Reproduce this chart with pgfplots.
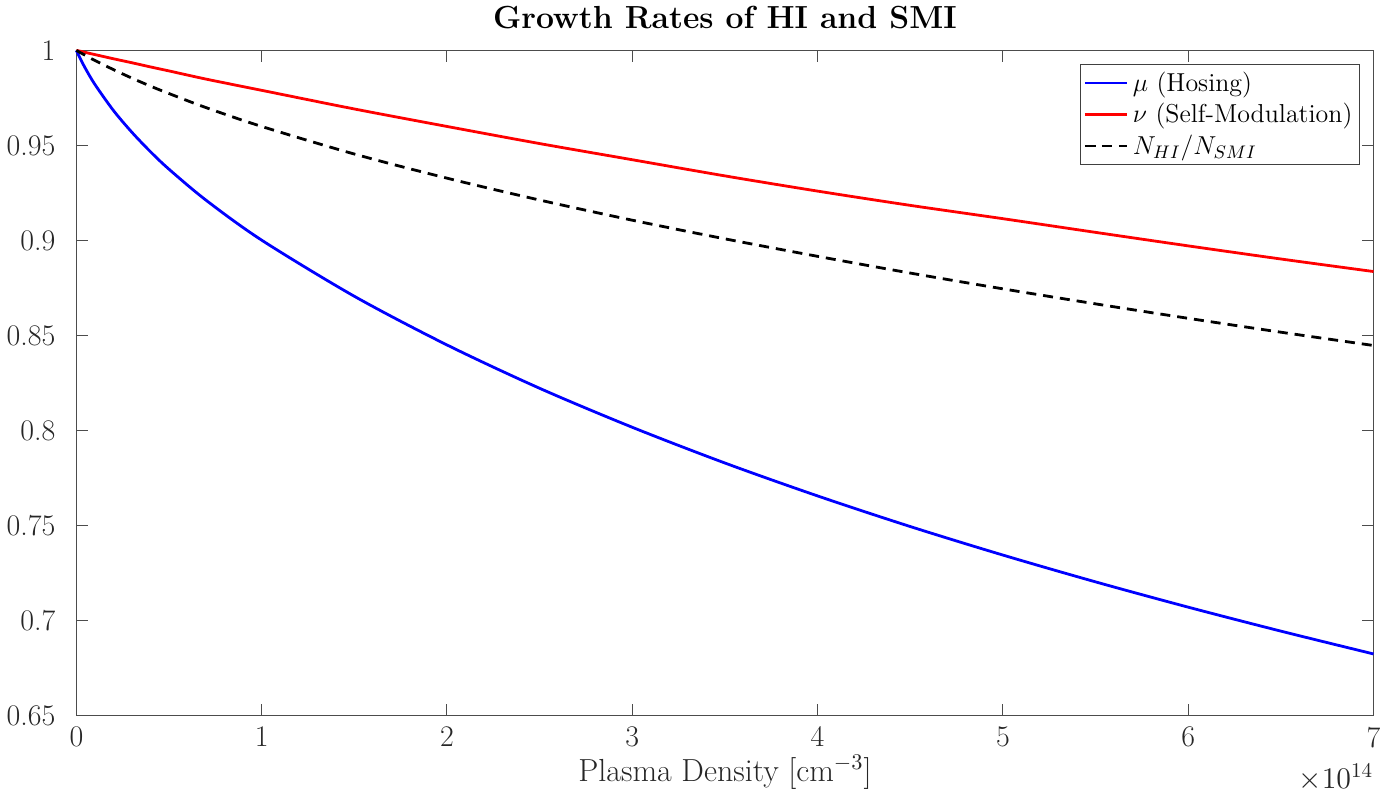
\documentclass[border=0pt]{standalone}
\usepackage{fix-cm}
\usepackage{fontspec}
\usepackage{pgfplots}
\pgfplotsset{compat=1.18}

% curves (x in units of 1e14 cm^-3)
\pgfplotstableread{
n     mu      nu      ratio
0.00  1.0000  1.0000  1.0000
0.02  0.9959  0.9996  0.9989
0.05  0.9903  0.9989  0.9973
0.10  0.9821  0.9978  0.9947
0.20  0.9684  0.9956  0.9899
0.30  0.9569  0.9935  0.9854
0.40  0.9467  0.9913  0.9812
0.50  0.9375  0.9892  0.9773
0.70  0.9212  0.9849  0.9699
1.00  0.9002  0.9790  0.9600
1.50  0.8707  0.9692  0.9455
2.00  0.8451  0.9600  0.9328
2.50  0.8223  0.9510  0.9213
3.00  0.8018  0.9425  0.9107
3.50  0.7830  0.9340  0.9009
4.00  0.7657  0.9260  0.8917
4.50  0.7496  0.9185  0.8829
5.00  0.7346  0.9115  0.8746
5.50  0.7205  0.9043  0.8667
6.00  0.7072  0.8972  0.8591
6.50  0.6946  0.8903  0.8518
7.00  0.6826  0.8837  0.8448
}\growth

\begin{document}
\begin{tikzpicture}
\begin{axis}[
    width=650pt, height=333.5pt, scale only axis,
    xmin=0, xmax=7, ymin=0.65, ymax=1,
    xtick={0,1,2,3,4,5,6,7},
    ytick={0.65,0.7,0.75,0.8,0.85,0.9,0.95,1},
    /pgf/number format/assume math mode=true,
    tick align=inside,
    major tick length=6pt,
    axis line style={black!70, line width=0.5pt},
    tick style={black!70, line width=0.5pt},
    ticklabel style={font=\fontsize{15}{18}\selectfont, text=black!85},
    yticklabel style={xshift=-7pt},
    xticklabel style={yshift=-2pt},
    title={\textbf{Growth Rates of HI and SMI}},
    title style={font=\fontsize{16}{19}\selectfont, yshift=1pt},
    xlabel={Plasma Density [cm$^{-3}$]},
    xlabel style={font=\fontsize{16}{19}\selectfont, text=black!85, yshift=3pt},
    legend style={at={(rel axis cs:0.9895,0.979)}, anchor=north east,
        font=\fontsize{13}{15.5}\selectfont, draw=black!75, line width=0.5pt,
        inner sep=1.5pt, row sep=0.5pt},
    legend cell align=left,
    legend image code/.code={\draw[#1] plot coordinates {(0cm,0cm)(0.75cm,0cm)};},
    clip=false,
]
\addplot[blue, line width=1.4pt, smooth] table[x=n, y=mu] {\growth};
\addlegendentry{$\mu$ (Hosing)}
\addplot[red, line width=1.4pt, smooth] table[x=n, y=nu] {\growth};
\addlegendentry{$\nu$ (Self-Modulation)}
\addplot[black, line width=1.4pt, smooth, dash pattern=on 5pt off 3.5pt] table[x=n, y=ratio] {\growth};
\addlegendentry{$N_{HI}/N_{SMI}$}
\node[anchor=north east, inner sep=0pt, font=\fontsize{15}{18}\selectfont, text=black!85]
    at (rel axis cs:1,0) [yshift=-24pt] {$\times 10^{14}$};
\end{axis}
\end{tikzpicture}
\end{document}
